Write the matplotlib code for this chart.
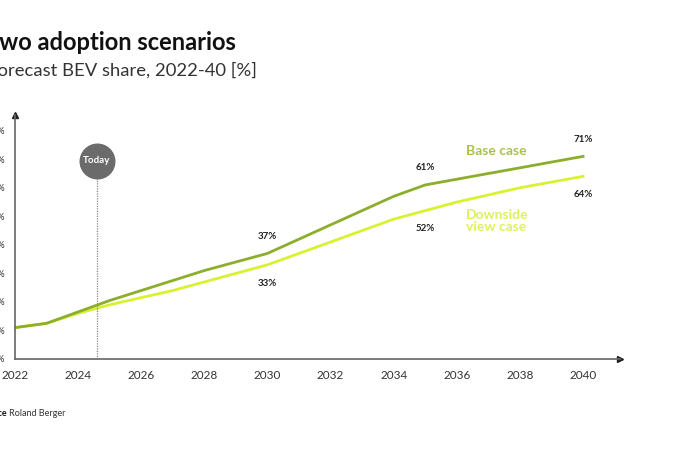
import matplotlib
matplotlib.use("Agg")
import matplotlib.pyplot as plt

plt.rcParams['font.family'] = ['Lato', 'DejaVu Sans']

# data
years = list(range(2022, 2041))
base_case = [11, 12.5, 16.5, 20.5, 24, 27.5, 31, 34, 37, 42, 47, 52, 57, 61,
             63, 65, 67, 69, 71]
downside_case = [11, 12.5, 16, 19, 21.5, 24, 27, 30, 33, 37, 41, 45, 49, 52,
                 55, 57.5, 60, 62, 64]
y_ticks = [0, 10, 20, 30, 40, 50, 60, 70, 80]
x_ticks = list(range(2022, 2041, 2))
today = 2024.6

# point labels: (year, value, text)
base_labels = [(2030, 37, "37%"), (2035, 61, "61%"), (2040, 71, "71%")]
down_labels = [(2030, 33, "33%"), (2035, 52, "52%"), (2040, 64, "64%")]

base_col = "#8cae2c"
down_col = "#d8f230"

W, H = 700, 450
fig = plt.figure(figsize=(7, 4.5), dpi=100)
ax = fig.add_axes([15 / W, 91 / H, 605 / W, 244 / H])

ax.plot(years, downside_case, color=down_col, lw=2, solid_joinstyle='round')
ax.plot(years, base_case, color=base_col, lw=2, solid_joinstyle='round')

ax.set_xlim(2022, 2041.17)
ax.set_ylim(0, 85.5)

for s in ['top', 'right']:
    ax.spines[s].set_visible(False)
for s in ['left', 'bottom']:
    ax.spines[s].set_color('#666666')
    ax.spines[s].set_linewidth(1.2)
ax.plot(1, 0, '>', color='#222222', ms=4, transform=ax.transAxes, clip_on=False)
ax.plot(0, 1, '^', color='#222222', ms=4, transform=ax.transAxes, clip_on=False)

ax.set_yticks(y_ticks)
ax.set_yticklabels([f"{v}%" for v in y_ticks], fontsize=6.5, color='#333333')
ax.set_xticks(x_ticks)
ax.set_xticklabels([str(v) for v in x_ticks], fontsize=8.5, color='#333333')
ax.tick_params(axis='y', length=0, pad=7)
ax.tick_params(axis='x', length=0, pad=8)

# today marker
ax.plot([today, today], [0, 63.5], color='#888888', lw=0.9, ls=(0, (1, 1)))
ax.scatter([today], [69.5], s=620, color='#6b6b6b', zorder=5, clip_on=False)
ax.text(today, 69.5, "Today", color='white', fontsize=7, fontweight='bold',
        ha='center', va='center', zorder=6)

for x, y, t in base_labels:
    ax.annotate(t, (x, y), xytext=(0, 9), textcoords='offset points',
                ha='center', va='bottom', fontsize=7, fontweight='bold', color='#222222')
for x, y, t in down_labels:
    ax.annotate(t, (x, y), xytext=(0, -10), textcoords='offset points',
                ha='center', va='top', fontsize=7, fontweight='bold', color='#222222')

ax.text(2036.3, 73, "Base case", color='#a9c24a', fontsize=10, fontweight='bold',
        ha='left', va='center')
ax.text(2036.3, 48.5, "Downside\nview case", color='#dcf259', fontsize=10,
        fontweight='bold', ha='left', va='center', linespacing=1.0)

# titles, cropped at the left edge like the source image
fig.text(-15 / W, 1 - 42 / H, "Two adoption scenarios", fontsize=17,
         fontweight='bold', color='#111111', va='center', ha='left')
fig.text(-13 / W, 1 - 70 / H, "Forecast BEV share, 2022-40 [%]", fontsize=13.3,
         color='#333333', va='center', ha='left')
fig.text(7.5 / W, 1 - 413 / H, "Source", fontsize=6.5, fontweight='bold',
         color='#111111', va='center', ha='right')
fig.text(9 / W, 1 - 413 / H, "Roland Berger", fontsize=6.5, color='#333333',
         va='center', ha='left')

fig.savefig("out.png", dpi=100, facecolor='white')
